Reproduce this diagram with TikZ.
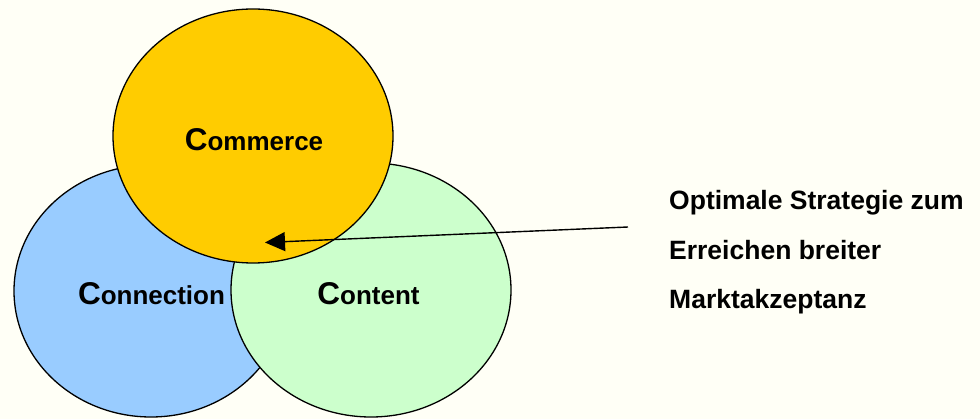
\documentclass[tikz,border=0pt]{standalone}
\usepackage{fontspec}
\setmainfont{Liberation Sans}
\usetikzlibrary{shapes.geometric,arrows.meta}
\definecolor{bgcream}{HTML}{FFFFF6}
\definecolor{commercefill}{HTML}{FFCC00}
\definecolor{connectfill}{HTML}{99CCFF}
\definecolor{contentfill}{HTML}{CCFFCC}
\tikzset{
  blob/.style={ellipse, draw=black, line width=1.3pt, inner sep=0pt},
  circlabel/.style={anchor=base, inner sep=0pt, font=\bfseries\fontsize{26}{30}\selectfont},
  sidetext/.style={anchor=base west, inner sep=0pt, font=\bfseries\fontsize{26.5}{30}\selectfont},
  pointer/.style={line width=1.4pt, -{Triangle[length=20pt,width=19pt]}}
}
\newcommand{\bigC}{{\fontsize{31.5}{34}\selectfont C}}
\begin{document}
\begin{tikzpicture}[x=1pt,y=-1pt]
  \fill[bgcream] (0,0) rectangle (980,419);
  \useasboundingbox (0,0) rectangle (980,419);
  \node[blob, fill=connectfill, minimum width=274pt, minimum height=252pt] (connection) at (151,291) {};
  \node[blob, fill=contentfill, minimum width=280pt, minimum height=254pt] (content) at (371,290) {};
  \node[blob, fill=commercefill, minimum width=280pt, minimum height=254pt] (commerce) at (253,136) {};
  \node[circlabel] (commercelabel) at (254,151) {\bigC ommerce};
  \node[circlabel] (connectionlabel) at (151.5,305) {\bigC onnection};
  \node[circlabel] (contentlabel) at (368.5,305) {\bigC ontent};
  \node[sidetext] (line1) at (669,210) {Optimale Strategie zum};
  \node[sidetext] (line2) at (669,259.5) {Erreichen breiter};
  \node[sidetext] (line3) at (669,309) {Marktakzeptanz};
  \coordinate (arrowstart) at (628,227);
  \coordinate (arrowtip) at (265,242.5);
  \draw[pointer] (arrowstart) -- (arrowtip);
\end{tikzpicture}
\end{document}
